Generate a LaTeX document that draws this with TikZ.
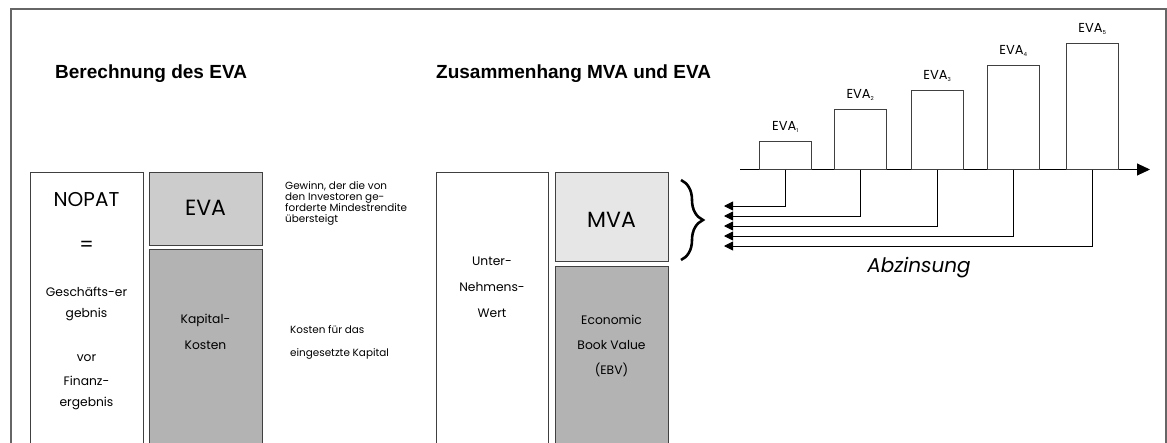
\documentclass[tikz,border=0pt]{standalone}
\usepackage{fontspec}
\setmainfont{Poppins}
\newfontfamily\titlefont{Liberation Sans}
\usetikzlibrary{arrows.meta,decorations.pathreplacing,calc}
\definecolor{framegray}{HTML}{666666}
\definecolor{boxline}{HTML}{404040}
\definecolor{evafill}{HTML}{CCCCCC}
\definecolor{mvafill}{HTML}{E6E6E6}
\definecolor{costfill}{HTML}{B3B3B3}
\tikzset{
  panel/.style={draw=boxline, line width=0.9pt, inner sep=0pt, anchor=north west},
  title/.style={font=\titlefont\bfseries\fontsize{19}{22}\selectfont, anchor=west, inner sep=0pt},
  big/.style={font=\fontsize{20}{24}\selectfont, inner sep=0pt},
  small/.style={font=\fontsize{12.3}{14}\selectfont, inner sep=0pt},
  note/.style={font=\fontsize{10.4}{11}\selectfont, inner sep=0pt, anchor=north west, align=left},
  side/.style={font=\fontsize{10.4}{12}\selectfont, inner sep=0pt, anchor=west},
  bar/.style={draw=boxline, line width=0.9pt, inner sep=0pt, anchor=south west, minimum width=52pt},
  barlbl/.style={font=\fontsize{13}{15}\selectfont, inner sep=0pt},
  link/.style={line width=0.9pt, -{Triangle[length=9pt,width=9pt]}},
}
\newcommand\yearsub[1]{\textsubscript{\fontsize{5.5}{6}\selectfont #1}}
\begin{document}
\begin{tikzpicture}[x=1pt,y=-1pt]
\useasboundingbox (0,0) rectangle (1167,442);
\clip (0,0) rectangle (1167,442);
% outer frame, open at the bottom
\draw[framegray, line width=1.4pt] (11,460) -- (11,9) -- (1166,9) -- (1166,460);

% titles
\node[title] (t1) at (55,74) {Berechnung des EVA};
\node[title] (t2) at (436,74) {Zusammenhang MVA und EVA};

% left block: NOPAT = EVA + capital cost
\node[panel, minimum width=113pt, minimum height=290pt] (nopat) at (30,172) {};
\node[panel, fill=evafill, minimum width=113pt, minimum height=73pt] (eva) at (149,172) {};
\node[panel, fill=costfill, minimum width=113pt, minimum height=210pt] (kk) at (149,249) {};

\node[big] (nopattxt) at (86.5,200) {NOPAT};
\node[big] (eq) at (86.5,246) {=};
\node[small] (g1) at (86.5,292) {Geschäfts-er};
\node[small] (g2) at (86.5,314) {gebnis};
\node[small] (g3) at (86.5,358) {vor};
\node[small] (g4) at (86.5,381) {Finanz-};
\node[small] (g5) at (86.5,403) {ergebnis};

\node[big, font=\fontsize{22}{26}\selectfont] (evatxt) at (205.5,208) {EVA};
\node[small] (k1) at (205.5,320) {Kapital-};
\node[small] (k2) at (205.5,345) {Kosten};

\node[note] (n1) at (285,181) {Gewinn, der die von\\den Investoren ge-\\forderte Mindestrendite\\übersteigt};
\node[side] (n2) at (290,330) {Kosten für das};
\node[side] (n3) at (290,354) {eingesetzte Kapital};

% middle block: firm value = MVA + EBV
\node[panel, minimum width=112pt, minimum height=290pt] (uw) at (436,172) {};
\node[panel, fill=mvafill, minimum width=113pt, minimum height=89pt] (mva) at (555,172) {};
\node[panel, fill=costfill, minimum width=113pt, minimum height=200pt] (ebv) at (555,266) {};

\node[small] (u1) at (492,261) {Unter-};
\node[small] (u2) at (492,287) {Nehmens-};
\node[small] (u3) at (492,313) {Wert};

\node[big, font=\fontsize{22}{26}\selectfont] (mvatxt) at (611.5,220) {MVA};
\node[small] (e1) at (611.5,320) {Economic};
\node[small] (e2) at (611.5,345) {Book Value};
\node[small] (e3) at (611.5,370) {(EBV)};

% brace grouping the discounted EVAs into the MVA
\draw[line width=2.6pt, decorate, decoration={brace, amplitude=22pt, aspect=0.5}] (681,180) -- (681,260);

% time axis with the yearly EVA bars
\coordinate (ax0) at (740,169.5);
\coordinate (ax1) at (1150,169.5);
\draw[line width=0.9pt, -{Triangle[length=13pt,width=12pt]}] (ax0) -- (ax1);

\node[bar, minimum height=27.5pt] (b1) at (759,169.5) {};
\node[bar, minimum height=59.5pt] (b2) at (834,169.5) {};
\node[bar, minimum height=78.5pt] (b3) at (911,169.5) {};
\node[bar, minimum height=103.5pt] (b4) at (987,169.5) {};
\node[bar, minimum height=125.5pt] (b5) at (1066,169.5) {};

\node[barlbl] (l1) at ($(b1.north)+(0,-14)$) {EVA\yearsub{1}};
\node[barlbl] (l2) at ($(b2.north)+(0,-14)$) {EVA\yearsub{2}};
\node[barlbl] (l3) at ($(b3.north)+(0,-14)$) {EVA\yearsub{3}};
\node[barlbl] (l4) at ($(b4.north)+(0,-14)$) {EVA\yearsub{4}};
\node[barlbl] (l5) at ($(b5.north)+(0,-14)$) {EVA\yearsub{5}};

% discounting each EVA back to the present
\coordinate (p1) at (724,206);
\coordinate (p2) at (724,216);
\coordinate (p3) at (724,226);
\coordinate (p4) at (724,236);
\coordinate (p5) at (724,246);
\draw[link] (b1.south) |- (p1);
\draw[link] (b2.south) |- (p2);
\draw[link] (b3.south) |- (p3);
\draw[link] (b4.south) |- (p4);
\draw[link] (b5.south) |- (p5);

\node[font=\itshape\fontsize{20}{24}\selectfont, inner sep=0pt] (abz) at (919,268) {Abzinsung};
\end{tikzpicture}
\end{document}
